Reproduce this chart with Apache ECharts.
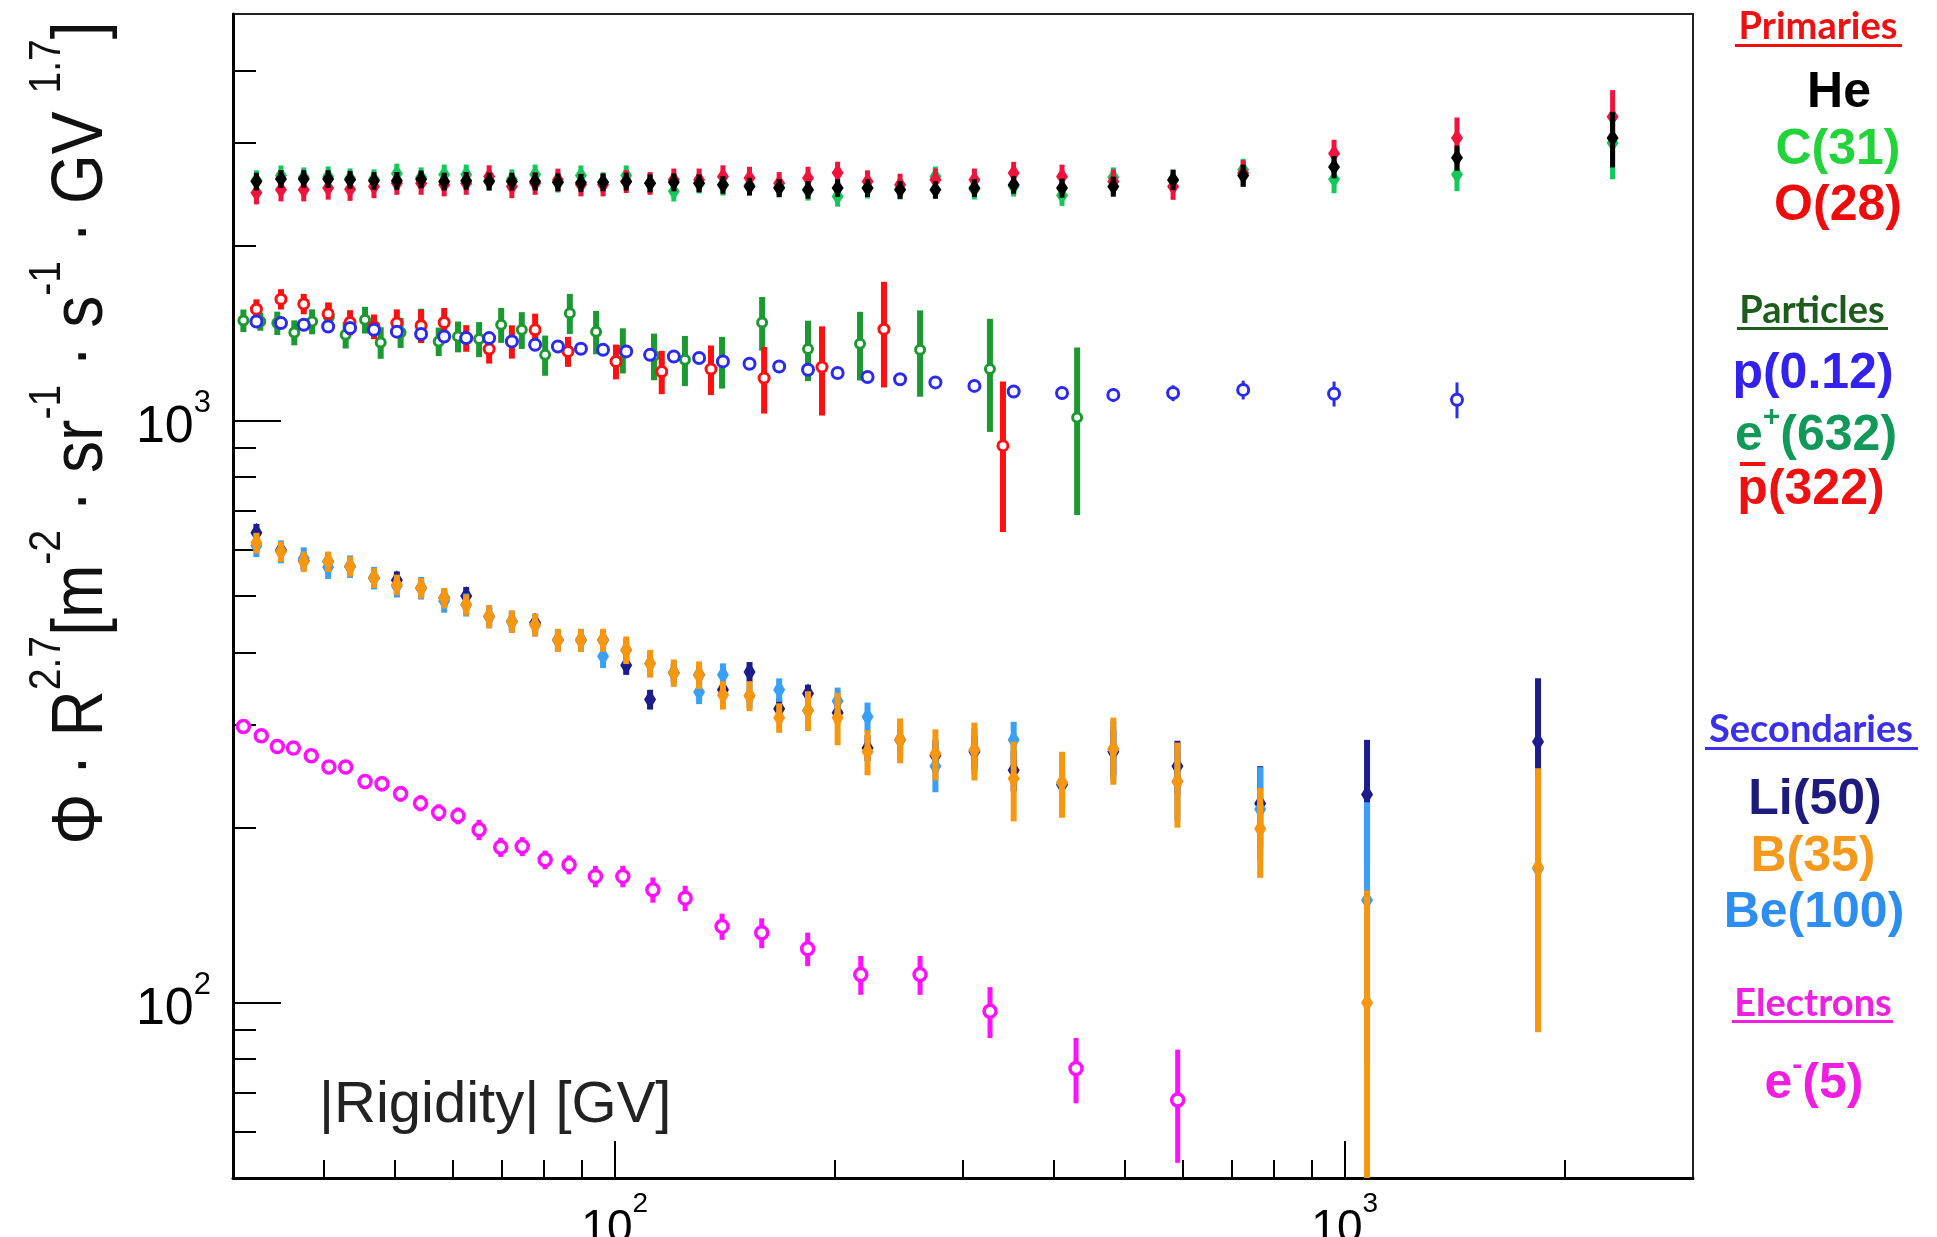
<!DOCTYPE html>
<html>
<head>
<meta charset="utf-8">
<script src="https://cdn.jsdelivr.net/npm/echarts@6/dist/echarts.min.js"></script>
<style>
  html, body { margin: 0; padding: 0; background: #ffffff; }
  #chart { width: 1937px; height: 1237px; }
</style>
</head>
<body>
<div id="chart"></div>
<script>
// ---- Rigidity bins (GV) shared by He, C, O and protons ----
const rigidityNuclei = [32.3, 34.9, 37.5, 40.5, 43.4, 46.8, 50.3, 54.3, 58.4, 62.6, 67.3, 72.3, 77.8, 83.6, 89.9, 96.4,
  103.7, 111.8, 120.5, 130.5, 140.7, 153, 168, 184, 202, 222, 246, 275, 311, 352, 410, 482, 582, 726, 967, 1425, 2328];

// ---- Primaries: flux x R^2.7 (He unscaled, C x31, O x28) ----
const fluxHe = [2578, 2604, 2604, 2604, 2596, 2585, 2585, 2600, 2578, 2585, 2578, 2578, 2578, 2570, 2565, 2570, 2578, 2560,
  2570, 2560, 2544, 2527, 2512, 2494, 2512, 2512, 2494, 2494, 2512, 2544, 2512, 2527, 2596, 2640, 2730, 2830, 3060];
const errHe = [90, 91, 91, 91, 91, 90, 90, 91, 90, 90, 90, 90, 90, 90, 90, 90, 90, 90, 90, 90, 89, 88, 88, 87, 88, 88, 87,
  87, 88, 89, 95, 100, 105, 115, 120, 140, 335];
const fluxC = [2590, 2640, 2620, 2630, 2610, 2600, 2660, 2620, 2650, 2650, 2590, 2600, 2650, 2570, 2640, 2570, 2640, 2560,
  2480, 2560, 2540, 2540, 2520, 2490, 2430, 2510, 2500, 2630, 2500, 2530, 2440, 2620, 2590, 2700, 2600, 2650, 3000];
const errC = [104, 106, 105, 105, 104, 104, 106, 105, 106, 106, 104, 104, 106, 103, 106, 103, 106, 102, 99, 102, 102, 102,
  101, 100, 97, 100, 100, 105, 100, 102, 100, 105, 110, 120, 140, 170, 400];
const fluxO = [2465, 2494, 2494, 2512, 2500, 2527, 2560, 2560, 2544, 2560, 2630, 2527, 2560, 2595, 2544, 2544, 2578, 2560,
  2596, 2596, 2630, 2614, 2560, 2614, 2667, 2578, 2544, 2596, 2596, 2665, 2630, 2578, 2527, 2665, 2880, 3060, 3330];
const errO = [111, 112, 112, 113, 113, 114, 115, 115, 114, 115, 118, 114, 115, 117, 114, 114, 116, 115, 117, 117, 118, 118,
  115, 118, 120, 116, 114, 117, 117, 120, 125, 125, 130, 140, 160, 260, 370];

// ---- Particles: protons (x0.12), positrons (x632), antiprotons (x322) ----
const rigidityProton = rigidityNuclei.slice(0, 36);
const fluxProton = [1481, 1472, 1462, 1452, 1443, 1433, 1423, 1410, 1396, 1387, 1387, 1369, 1351, 1342, 1330, 1324, 1316,
  1298, 1290, 1282, 1265, 1253, 1240, 1224, 1208, 1189, 1179, 1164, 1148, 1123, 1116, 1108, 1116, 1130, 1113, 1087];
const errProton = [12, 12, 12, 12, 12, 12, 12, 12, 12, 12, 12, 12, 12, 12, 12, 12, 12, 13, 13, 13, 13, 13, 14, 14, 14, 15,
  15, 20, 22, 25, 28, 30, 35, 42, 55, 77];

const energyPositron = [31.0, 32.7, 34.5, 36.4, 38.5, 40.6, 42.8, 45.5, 47.8, 50.9, 54.3, 57.4, 61.0, 65.2, 69.9, 74.6,
  80.3, 86.8, 94.3, 102.6, 113.2, 124.8, 140.3, 159.2, 184.0, 216.8, 262, 326.6, 430];
const fluxPositron = [1487, 1481, 1472, 1418, 1481, 1510, 1405, 1491, 1363, 1418, 1462, 1369, 1396, 1382, 1462, 1433, 1298,
  1531, 1423, 1324, 1293, 1273, 1265, 1476, 1328, 1356, 1324, 1227, 1013];
const errPositron = [66, 53, 68, 70, 73, 85, 74, 79, 85, 84, 96, 77, 85, 96, 101, 104, 103, 121, 122, 118, 119, 126, 129,
  156, 158, 183, 224, 270, 324];

const rigidityAntiproton = [32.3, 34.9, 37.5, 40.5, 43.4, 46.8, 50.3, 54.3, 58.4, 62.6, 67.3, 72.3, 77.8, 86.3, 100.4, 116,
  135.5, 160.2, 192.3, 233.8, 340.3];
const fluxAntiproton = [1555, 1618, 1588, 1527, 1476, 1452, 1472, 1456, 1476, 1387, 1328, 1369, 1433, 1316, 1265, 1215, 1227,
  1184, 1237, 1437, 906];
const errAntiproton = [62, 65, 64, 70, 73, 71, 82, 96, 87, 73, 74, 90, 95, 78, 87, 104, 120, 155, 216, 296, 262];

// ---- Secondaries: Li (x50), B (x35), Be (x100) ----
const rigiditySecondary = [32.3, 34.9, 37.5, 40.5, 43.4, 46.8, 50.3, 54.3, 58.4, 62.6, 67.3, 72.3, 77.8, 83.6, 89.9, 96.4,
  103.7, 111.8, 120.5, 130.5, 140.7, 153, 168, 184, 202, 222, 246, 275, 311, 352, 410, 482, 590, 766, 1073, 1840];
const fluxLi = [642, 600, 575, 573, 562, 537, 532, 516, 496, 500, 461, 452, 450, 420, 420, 420, 380, 332, 369, 366, 345, 370,
  320, 340, 315, 274, 283, 266, 270, 251, 237, 270, 255, 220, 228, 281];
const errLi = [23, 21, 20, 20, 20, 19, 19, 18, 17, 18, 16, 16, 16, 15, 15, 15, 14, 13, 13, 13, 13, 15, 14, 12, 12, 14, 16,
  17, 18, 20, 22, 24, 27, 35, 55, 80];
const fluxBe = [610, 596, 580, 560, 562, 537, 520, 516, 490, 483, 461, 452, 446, 420, 420, 394, 404, 383, 369, 342, 366, 337,
  345, 318, 330, 310, 283, 255, 272, 283, 239, 273, 240, 215, 150, 170];
const errBe = [27, 27, 26, 25, 25, 24, 23, 23, 22, 22, 21, 20, 20, 19, 19, 18, 18, 17, 17, 16, 17, 16, 16, 15, 18, 18, 20,
  25, 25, 21, 30, 32, 35, 39, 71, 72];
const fluxB = [617, 596, 573, 573, 562, 537, 523, 516, 496, 483, 461, 452, 446, 420, 420, 420, 404, 383, 369, 366, 338, 337,
  309, 318, 309, 270, 283, 268, 272, 243, 239, 273, 240, 199, 100, 171];
const errB = [25, 24, 23, 23, 22, 21, 21, 21, 20, 20, 21, 20, 20, 19, 19, 19, 22, 21, 20, 20, 19, 20, 18, 25, 32, 24, 25,
  27, 31, 38, 31, 36, 40, 35, 56, 82];

// ---- Electrons (x5) ----
const energyElectron = [31.0, 32.8, 34.5, 36.3, 38.4, 40.6, 42.8, 45.5, 48.0, 50.9, 54.2, 57.4, 61.0, 65.2, 69.8, 74.7, 80.3,
  86.6, 94.1, 102.6, 112.8, 124.9, 140.3, 159, 183.8, 217.3, 262, 326.7, 428.5, 590.5];
const fluxElectron = [298.4, 287.6, 275.6, 273.9, 265.7, 254.1, 254.1, 240.1, 237.9, 228.6, 220.3, 212.3, 209.6, 198.3, 185.1,
  185.6, 176.1, 172.7, 164.9, 164.9, 156.4, 151.3, 135.3, 131.9, 123.8, 111.8, 111.8, 96.7, 77.1, 68.1];
const errElectron = [7, 7, 7, 7, 7, 7, 7, 7, 7, 7, 7, 7, 7, 8, 7, 7, 6.5, 6.5, 7, 7, 7.8, 7.6, 7, 7.8, 8.2, 8.6, 8.6, 9.7,
  9.9, 15];

// ---- Axis ticks ----
const xMajorTicks = [100, 1000];
const xMinorTicks = [40, 50, 60, 70, 80, 90, 200, 300, 400, 500, 600, 700, 800, 900, 2000];
const yMajorTicks = [100, 1000];
const yMinorTicks = [60, 70, 80, 90, 200, 300, 400, 500, 600, 700, 800, 900, 2000, 3000, 4000];

const FONT = 'Liberation Sans';

// Vertical error bar plus marker, placed through the cartesian axes
function errorBarSeries(name, xs, ys, es, look) {
  return {
    type: 'custom',
    name: name,
    coordinateSystem: 'cartesian2d',
    xAxisIndex: 0,
    yAxisIndex: 0,
    silent: true,
    z: look.z,
    data: xs.map(function (x, i) { return [x, ys[i], es[i]]; }),
    encode: { x: 0, y: 1 },
    renderItem: function (params, api) {
      const x = api.value(0), y = api.value(1), e = api.value(2);
      const cs = params.coordSys;
      const p = api.coord([x, y]);
      const pt = api.coord([x, y + e]);
      const pb = api.coord([x, y - e > 0 ? y - e : 1e-6]);
      const yTop = Math.max(pt[1], cs.y);
      const yBot = Math.min(pb[1], cs.y + cs.height);
      const kids = [{
        type: 'line',
        shape: { x1: p[0], y1: yTop, x2: p[0], y2: yBot },
        style: { stroke: look.color, lineWidth: look.bar }
      }];
      if (p[1] >= cs.y && p[1] <= cs.y + cs.height) {
        if (look.marker === 'diamond') {
          kids.push({
            type: 'polygon',
            shape: { points: [[p[0], p[1] - look.h / 2], [p[0] + look.w / 2, p[1]],
                              [p[0], p[1] + look.h / 2], [p[0] - look.w / 2, p[1]]] },
            style: { fill: look.color }
          });
        } else {
          kids.push({
            type: 'circle',
            shape: { cx: p[0], cy: p[1], r: look.r },
            style: { fill: '#ffffff', stroke: look.color, lineWidth: look.ring }
          });
        }
      }
      return { type: 'group', children: kids };
    }
  };
}

function powerLabel(mainSize, supSize, lineH) {
  return {
    formatter: function (v) { return '{b|10}{s|' + Math.round(Math.log10(v)) + '}'; },
    rich: {
      b: { fontFamily: FONT, fontSize: mainSize, color: '#000', lineHeight: lineH, verticalAlign: 'bottom' },
      s: { fontFamily: FONT, fontSize: supSize, color: '#000', verticalAlign: 'top' }
    }
  };
}

const xLab = powerLabel(46, 28, 62);
const yLab = powerLabel(52, 31, 66);

const diamondNuc = { marker: 'diamond', w: 12, h: 18, bar: 5 };
const diamondSec = { marker: 'diamond', w: 12, h: 20, bar: 6 };

const series = [
  errorBarSeries('C', rigidityNuclei, fluxC, errC, Object.assign({ color: '#14c85a', z: 3 }, diamondNuc)),
  errorBarSeries('O', rigidityNuclei, fluxO, errO, Object.assign({ color: '#f0143c', z: 4 }, diamondNuc)),
  errorBarSeries('He', rigidityNuclei, fluxHe, errHe, Object.assign({ color: '#000000', z: 5 }, diamondNuc)),

  errorBarSeries('e+', energyPositron, fluxPositron, errPositron, { color: '#1a9a30', marker: 'ring', r: 4.5, ring: 3, bar: 6, z: 3 }),
  errorBarSeries('pbar', rigidityAntiproton, fluxAntiproton, errAntiproton, { color: '#ff1010', marker: 'ring', r: 5, ring: 3, bar: 6, z: 4 }),
  errorBarSeries('p', rigidityProton, fluxProton, errProton, { color: '#2a2af0', marker: 'ring', r: 5.5, ring: 3, bar: 3, z: 5 }),

  errorBarSeries('Li', rigiditySecondary, fluxLi, errLi, Object.assign({ color: '#1c1c8c', z: 3 }, diamondSec)),
  errorBarSeries('Be', rigiditySecondary, fluxBe, errBe, Object.assign({ color: '#3aa0f5', z: 4 }, diamondSec)),
  errorBarSeries('B', rigiditySecondary, fluxB, errB, Object.assign({ color: '#f7960f', z: 5 }, diamondSec)),

  errorBarSeries('e-', energyElectron, fluxElectron, errElectron, { color: '#ff10ff', marker: 'ring', r: 6, ring: 3.5, bar: 5, z: 3 })
];

// Right-hand key: group headers and scaled species
const headerStyle = { fontFamily: 'Lato', fontWeight: 'bold', fontSize: 38 };
const itemStyle = { fontFamily: FONT, fontWeight: 'bold', fontSize: 50 };

function keyText(text, x, y, color, base, rich) {
  const style = Object.assign({ text: text, fill: color, align: 'center', verticalAlign: 'middle' }, base);
  if (rich) style.rich = rich;
  return { type: 'text', x: x, y: y, style: style, z: 10 };
}
function bar(x1, x2, y, h, color) {
  return { type: 'rect', shape: { x: x1, y: y, width: x2 - x1, height: h }, style: { fill: color }, z: 10 };
}
function supRich(color) {
  return {
    a: { fontFamily: FONT, fontWeight: 'bold', fontSize: 50, fill: color, lineHeight: 58, verticalAlign: 'bottom' },
    s: { fontFamily: FONT, fontWeight: 'bold', fontSize: 30, fill: color, verticalAlign: 'top' }
  };
}

const keyGraphics = [
  keyText('Primaries', 1818, 27, '#ee1111', headerStyle),
  bar(1735, 1902, 44, 3, '#ee1111'),
  keyText('He', 1839, 93, '#000000', itemStyle),
  keyText('C(31)', 1838, 150, '#22d43a', itemStyle),
  keyText('O(28)', 1838, 206, '#ee0b0b', itemStyle),

  keyText('Particles', 1812, 311, '#1e5c1e', headerStyle),
  bar(1737, 1888, 327, 3, '#1e5c1e'),
  keyText('p(0.12)', 1813, 374, '#3322ee', itemStyle),
  keyText('{a|e}{s|+}{a|(632)}', 1816, 432, '#12995a', {}, supRich('#12995a')),
  keyText('p(322)', 1811, 490, '#ee1111', itemStyle),
  bar(1740, 1765, 462, 4, '#ee1111'),

  keyText('Secondaries', 1811, 730, '#3a30e8', headerStyle),
  bar(1705, 1918, 747, 3, '#3a30e8'),
  keyText('Li(50)', 1815, 800, '#1e1b7e', itemStyle),
  keyText('B(35)', 1813, 857, '#f39a1c', itemStyle),
  keyText('Be(100)', 1814, 913, '#2e8ef0', itemStyle),

  keyText('Electrons', 1813, 1004, '#ee1fe0', headerStyle),
  bar(1732, 1893, 1020, 3, '#ee1fe0'),
  keyText('{a|e}{s|-}{a|(5)}', 1814, 1080, '#ee1fe0', {}, supRich('#ee1fe0'))
];

// Vertical axis title, condensed along the reading direction
const titleGraphic = {
  type: 'text',
  x: 72,
  y: 433,
  rotation: Math.PI / 2,
  scaleX: 0.89,
  scaleY: 1,
  z: 10,
  style: {
    text: '{m|\u03A6 \u00B7 R}{s|2.7}{m|[m}{s|-2}{m| \u00B7 sr}{s|-1}{m| \u00B7 s}{s|-1}{m| \u00B7 GV }{s|1.7}{m|]}',
    align: 'center',
    verticalAlign: 'middle',
    rich: {
      m: { fontFamily: FONT, fontSize: 72, fill: '#111111', lineHeight: 92, verticalAlign: 'bottom' },
      s: { fontFamily: FONT, fontSize: 44, fill: '#111111', verticalAlign: 'top' }
    }
  }
};

const rigidityCaption = {
  type: 'text',
  x: 319,
  y: 1106,
  z: 10,
  style: { text: '|Rigidity| [GV]', fontFamily: FONT, fontSize: 58, fill: '#222222', align: 'left', verticalAlign: 'middle' }
};

const chart = echarts.init(document.getElementById('chart'), null, { renderer: 'canvas' });
chart.setOption({
  animation: false,
  backgroundColor: '#ffffff',
  textStyle: { fontFamily: FONT },
  grid: {
    left: 233, right: 244, top: 14, bottom: 59,
    show: true, borderColor: '#222222', borderWidth: 2, backgroundColor: 'transparent',
    outerBoundsMode: 'none'
  },
  xAxis: [
    {
      type: 'log', logBase: 10, min: 30, max: 3000, position: 'bottom',
      axisLine: { show: true, onZero: false, lineStyle: { color: '#000', width: 3 } },
      axisTick: { show: true, inside: true, length: 37, customValues: xMajorTicks, lineStyle: { color: '#000', width: 2 } },
      axisLabel: Object.assign({ show: true, customValues: xMajorTicks, margin: 12 }, xLab),
      splitLine: { show: false }, minorTick: { show: false }
    },
    {
      type: 'log', logBase: 10, min: 30, max: 3000, position: 'bottom',
      axisLine: { show: false },
      axisTick: { show: true, inside: true, length: 18, customValues: xMinorTicks, lineStyle: { color: '#000', width: 2 } },
      axisLabel: { show: false },
      splitLine: { show: false }
    }
  ],
  yAxis: [
    {
      type: 'log', logBase: 10, min: 50, max: 5000, position: 'left',
      axisLine: { show: true, onZero: false, lineStyle: { color: '#000', width: 3 } },
      axisTick: { show: true, inside: true, length: 48, customValues: yMajorTicks, lineStyle: { color: '#000', width: 2 } },
      axisLabel: Object.assign({ show: true, customValues: yMajorTicks, margin: 22 }, yLab),
      splitLine: { show: false }, minorTick: { show: false }
    },
    {
      type: 'log', logBase: 10, min: 50, max: 5000, position: 'left',
      axisLine: { show: false },
      axisTick: { show: true, inside: true, length: 23, customValues: yMinorTicks, lineStyle: { color: '#000', width: 2 } },
      axisLabel: { show: false },
      splitLine: { show: false }
    }
  ],
  graphic: [titleGraphic, rigidityCaption].concat(keyGraphics),
  series: series
});
</script>
</body>
</html>
